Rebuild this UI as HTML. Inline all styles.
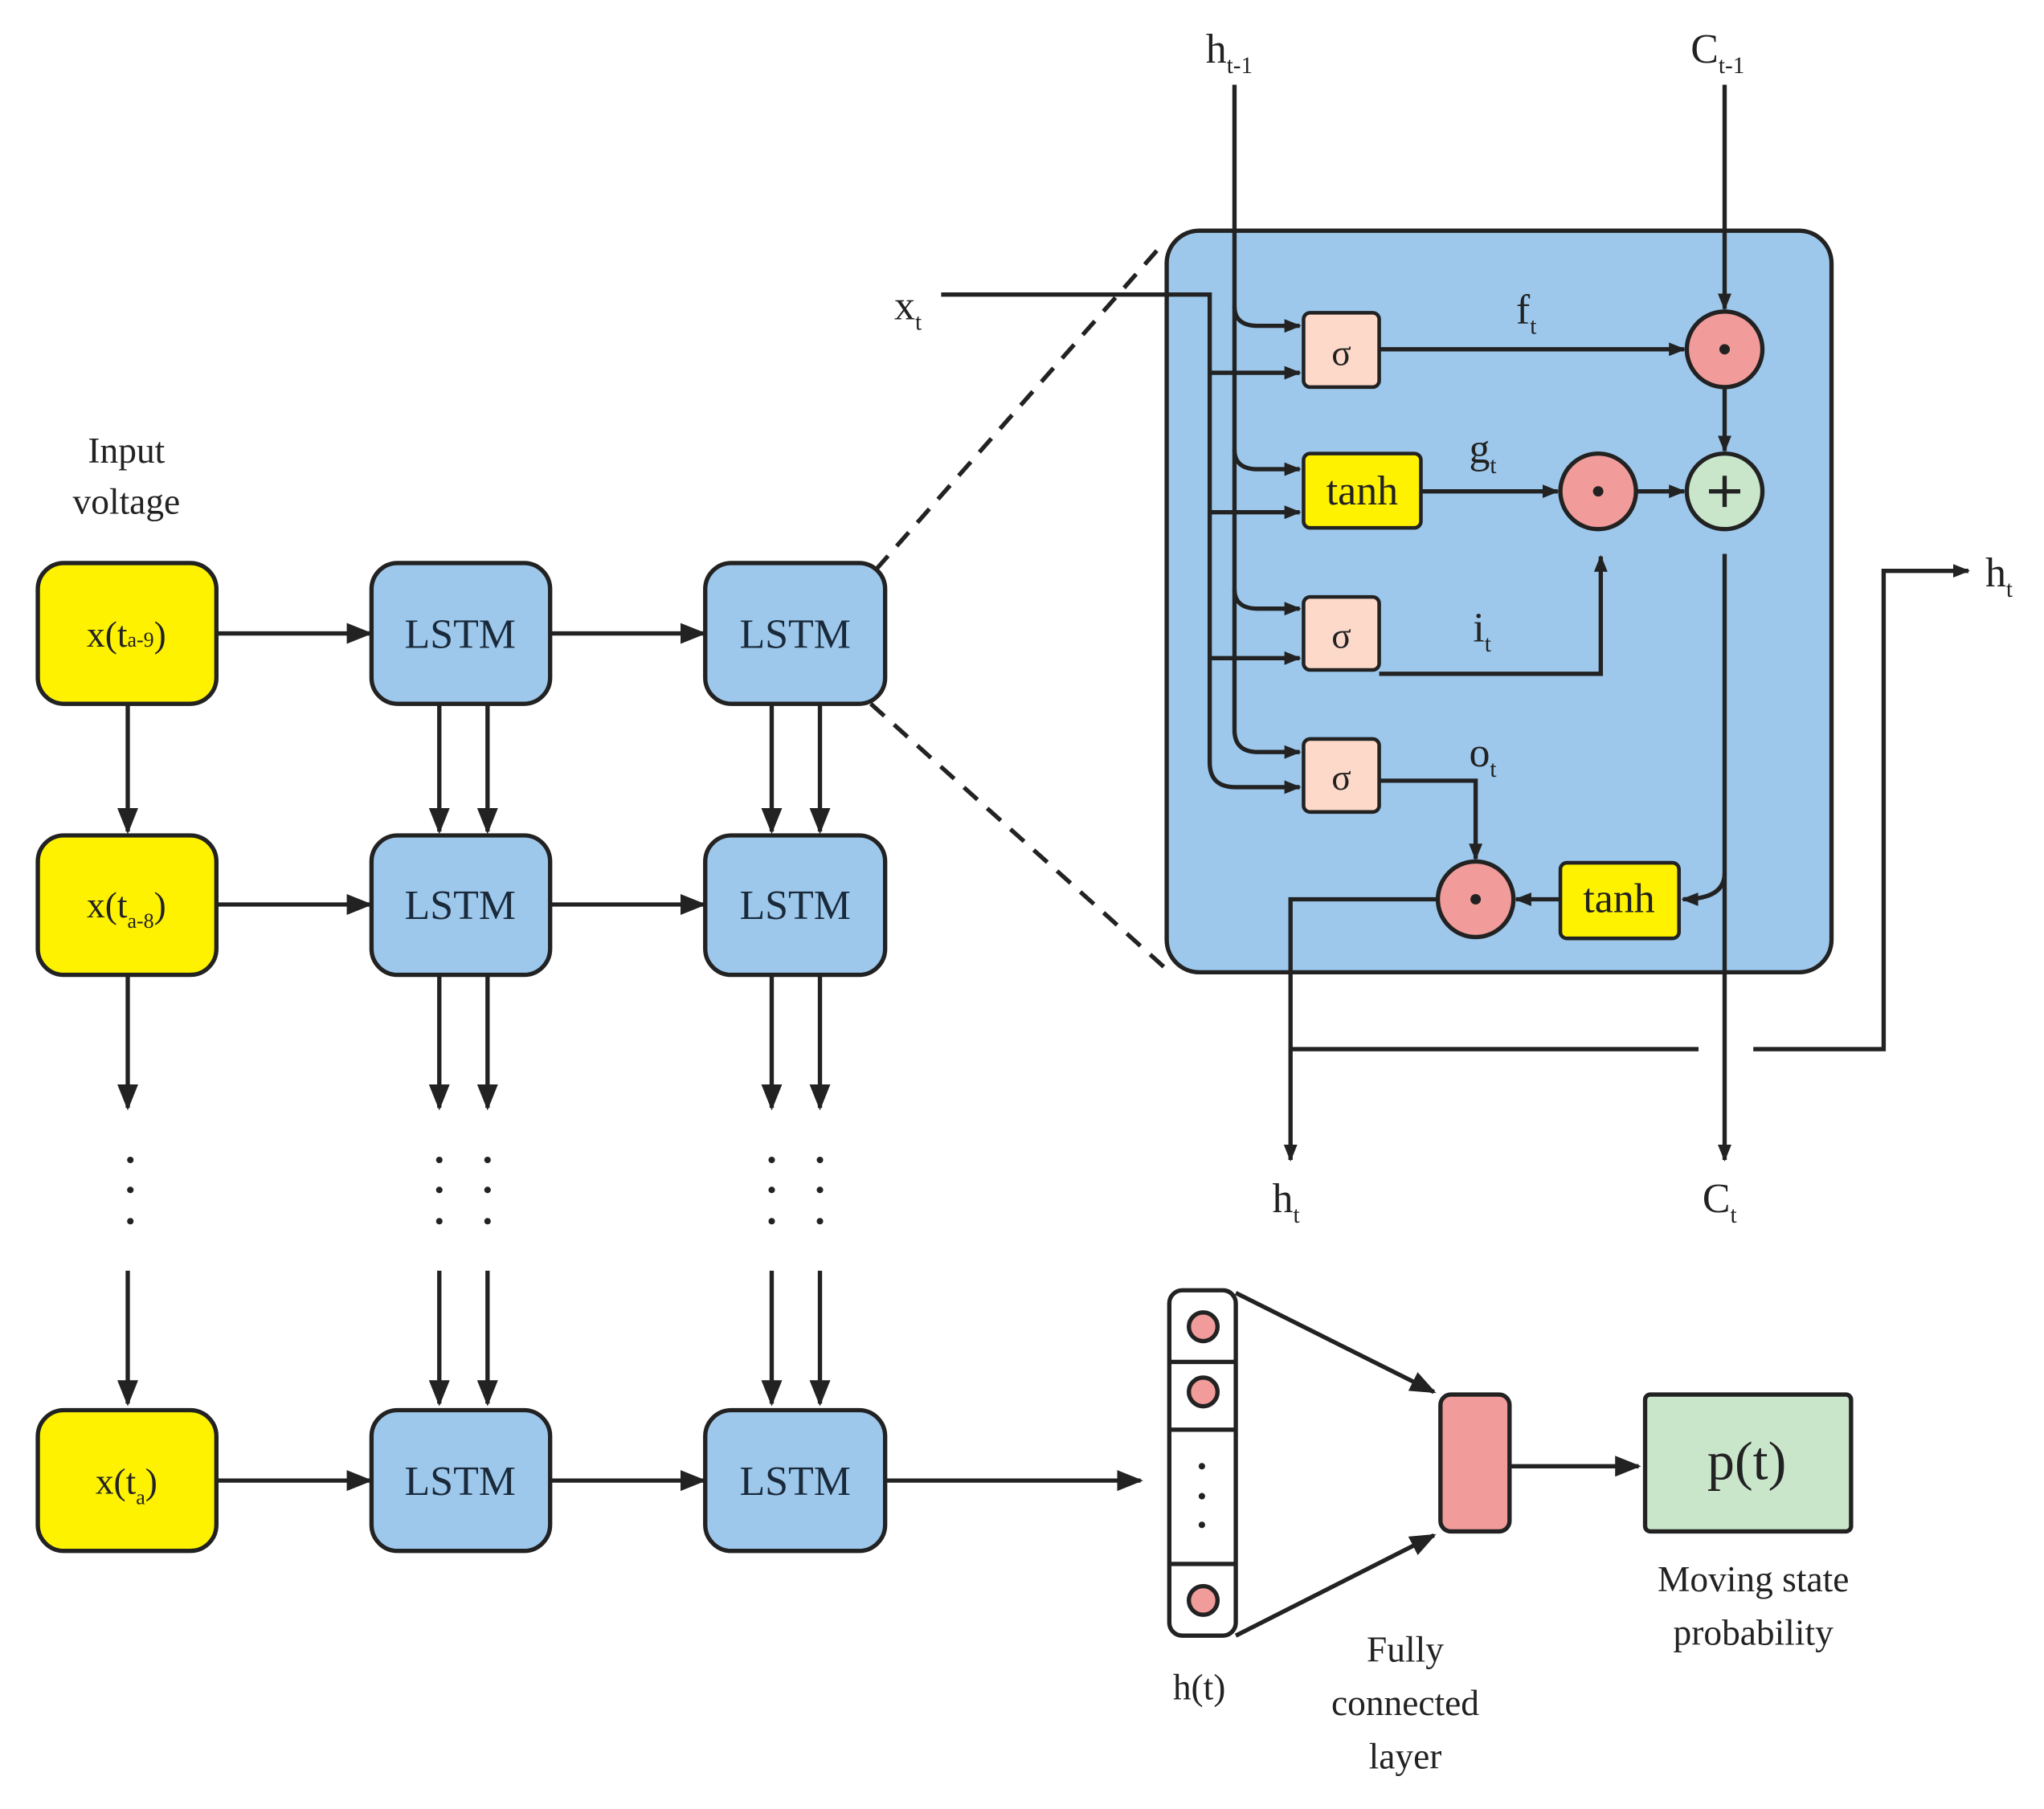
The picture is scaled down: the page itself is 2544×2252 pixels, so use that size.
<!DOCTYPE html>
<html><head><meta charset="utf-8"><style>html,body{margin:0;padding:0;background:#fff}svg{display:block}text{font-family:"Liberation Serif",serif}</style></head>
<body>
<svg width="2544" height="2252" viewBox="0 0 1568 1388" xmlns="http://www.w3.org/2000/svg" font-family="'Liberation Serif', serif" fill="none">
<defs>
<marker id="a" viewBox="0 0 10 10" refX="9" refY="5" markerWidth="13" markerHeight="13" orient="auto" markerUnits="userSpaceOnUse"><path d="M0,1L10,5L0,9z" fill="#222"/></marker>
<marker id="b" viewBox="0 0 10 10" refX="9" refY="5" markerWidth="20" markerHeight="20" orient="auto" markerUnits="userSpaceOnUse"><path d="M0,1L10,5L0,9z" fill="#222"/></marker>
</defs>
<g stroke="#222" stroke-width="3.3">
<g fill="#fef200">
<rect x="29" y="432" width="137" height="108" rx="20"/>
<rect x="29" y="641" width="137" height="107" rx="20"/>
<rect x="29" y="1082" width="137" height="108" rx="20"/>
</g>
<g fill="#9dc8ec">
<rect x="285" y="432" width="137" height="108" rx="20"/>
<rect x="285" y="641" width="137" height="107" rx="20"/>
<rect x="285" y="1082" width="137" height="108" rx="20"/>
<rect x="541" y="432" width="138" height="108" rx="20"/>
<rect x="541" y="641" width="138" height="107" rx="20"/>
<rect x="541" y="1082" width="138" height="108" rx="20"/>
</g>
<g marker-end="url(#b)">
<line x1="166" y1="486" x2="284" y2="486"/><line x1="422" y1="486" x2="540" y2="486"/>
<line x1="166" y1="694" x2="284" y2="694"/><line x1="422" y1="694" x2="540" y2="694"/>
<line x1="166" y1="1136" x2="284" y2="1136"/><line x1="422" y1="1136" x2="540" y2="1136"/>
<line x1="679" y1="1136" x2="875" y2="1136"/>
</g>
<g marker-end="url(#b)">
<line x1="98" y1="540" x2="98" y2="638"/><line x1="337" y1="540" x2="337" y2="638"/><line x1="374" y1="540" x2="374" y2="638"/><line x1="592" y1="540" x2="592" y2="638"/><line x1="629" y1="540" x2="629" y2="638"/>
<line x1="98" y1="748" x2="98" y2="850"/><line x1="337" y1="748" x2="337" y2="850"/><line x1="374" y1="748" x2="374" y2="850"/><line x1="592" y1="748" x2="592" y2="850"/><line x1="629" y1="748" x2="629" y2="850"/>
<line x1="98" y1="975" x2="98" y2="1077"/><line x1="337" y1="975" x2="337" y2="1077"/><line x1="374" y1="975" x2="374" y2="1077"/><line x1="592" y1="975" x2="592" y2="1077"/><line x1="629" y1="975" x2="629" y2="1077"/>
</g>
<line x1="672" y1="437" x2="893" y2="186" stroke-dasharray="14,10"/>
<line x1="668" y1="540" x2="893" y2="742" stroke-dasharray="14,10"/>
<rect x="895" y="177" width="510" height="569" rx="25" fill="#9dc8ec"/>
</g>
<g fill="#222">
<circle cx="100" cy="890" r="2.5"/><circle cx="100" cy="913" r="2.5"/><circle cx="100" cy="937" r="2.5"/>
<circle cx="337" cy="890" r="2.5"/><circle cx="337" cy="913" r="2.5"/><circle cx="337" cy="937" r="2.5"/>
<circle cx="374" cy="890" r="2.5"/><circle cx="374" cy="913" r="2.5"/><circle cx="374" cy="937" r="2.5"/>
<circle cx="592" cy="890" r="2.5"/><circle cx="592" cy="913" r="2.5"/><circle cx="592" cy="937" r="2.5"/>
<circle cx="629" cy="890" r="2.5"/><circle cx="629" cy="913" r="2.5"/><circle cx="629" cy="937" r="2.5"/>
</g>
<g stroke="#222" stroke-width="3.3">
<path d="M947,65 V560 Q947,577 965,577 H997" marker-end="url(#a)"/>
<path d="M722,226 H928 V585 Q928,604 948,604 H997" marker-end="url(#a)"/>
<g marker-end="url(#a)">
<path d="M947,235 Q947,250 965,250 H997"/><path d="M928,286 H997"/>
<path d="M947,345 Q947,360 965,360 H997"/><path d="M928,393 H997"/>
<path d="M947,452 Q947,467 965,467 H997"/><path d="M928,505 H997"/>
<path d="M1323,65 V237"/>
<path d="M1058,268 H1292"/>
<path d="M1323,298 V346"/>
<path d="M1090,377 H1195"/>
<path d="M1255,377 H1292"/>
<path d="M1058,517 H1228 V427"/>
<path d="M1058,599 H1132 V659"/>
<path d="M1197,690 H1163"/>
<path d="M1323,425 V670 Q1323,690 1291,690"/>
<path d="M1323,670 V890"/>
<path d="M1103,690 H990 V890"/>
<path d="M1345,805 H1445 V438 H1510"/>
</g>
<path d="M990,805 H1303"/>
<g fill="#fcd9c9" stroke-width="2.8">
<rect x="1000" y="240" width="58" height="57" rx="5"/>
<rect x="1000" y="458" width="58" height="56" rx="5"/>
<rect x="1000" y="567" width="58" height="56" rx="5"/>
</g>
<g fill="#fef200" stroke-width="2.8">
<rect x="1000" y="348" width="90" height="57" rx="5"/>
<rect x="1197" y="662" width="91" height="58" rx="5"/>
</g>
<g fill="#f29b9b">
<circle cx="1323" cy="268" r="29"/><circle cx="1226" cy="377" r="29"/><circle cx="1132" cy="690" r="29"/>
</g>
<circle cx="1323" cy="377" r="29" fill="#c9e6cb"/>
<path d="M1311,377 H1335 M1323,365 V389"/>
</g>
<g fill="#222"><circle cx="1323" cy="268" r="4"/><circle cx="1226" cy="377" r="4"/><circle cx="1132" cy="690" r="4"/></g>
<g stroke="#222" stroke-width="3.3">
<rect x="897" y="990" width="51" height="265" rx="10" fill="#fff"/>
<path d="M897,1045 H948 M897,1097 H948 M897,1200 H948"/>
<g fill="#f29b9b"><circle cx="923" cy="1018" r="11"/><circle cx="923" cy="1068" r="11"/><circle cx="923" cy="1228" r="11"/></g>
<line x1="948" y1="992" x2="1100" y2="1068" marker-end="url(#b)"/>
<line x1="948" y1="1255" x2="1100" y2="1178" marker-end="url(#b)"/>
<rect x="1105" y="1070" width="53" height="105" rx="8" fill="#f29b9b"/>
<line x1="1158" y1="1125" x2="1257" y2="1125" marker-end="url(#b)"/>
<rect x="1262" y="1070" width="158" height="105" rx="4" fill="#c9e6cb"/>
</g>
<g fill="#222"><circle cx="922" cy="1125" r="2.5"/><circle cx="922" cy="1148" r="2.5"/><circle cx="922" cy="1170" r="2.5"/></g>
<g fill="#222" text-anchor="middle" font-size="28">
<text x="97" y="355">Input</text><text x="97" y="394">voltage</text>
<g font-size="32" fill="#1a2a3a">
<text x="353" y="497">LSTM</text><text x="610" y="497">LSTM</text>
<text x="353" y="705">LSTM</text><text x="610" y="705">LSTM</text>
<text x="353" y="1147">LSTM</text><text x="610" y="1147">LSTM</text>
</g>
<text x="97" y="496" font-size="28">x(t<tspan font-size="16">a-9</tspan>)</text>
<text x="97" y="704" font-size="28">x(t<tspan font-size="16" dy="8">a-8</tspan><tspan dy="-8">)</tspan></text>
<text x="97" y="1146" font-size="28">x(t<tspan font-size="16" dy="8">a</tspan><tspan dy="-8">)</tspan></text>
<text x="1029" y="280" font-size="28">σ</text><text x="1029" y="497" font-size="28">σ</text><text x="1029" y="606" font-size="28">σ</text>
<text x="1045" y="387" font-size="32">tanh</text><text x="1242" y="700" font-size="32">tanh</text>
<g text-anchor="start" font-size="32">
<text x="925" y="48">h<tspan font-size="18" dy="8">t-1</tspan></text>
<text x="1297" y="48">C<tspan font-size="18" dy="8">t-1</tspan></text>
<text x="686" y="245">x<tspan font-size="18" dy="8">t</tspan></text>
<text x="1163" y="248">f<tspan font-size="18" dy="8">t</tspan></text>
<text x="1127" y="355">g<tspan font-size="18" dy="8">t</tspan></text>
<text x="1130" y="492">i<tspan font-size="18" dy="8">t</tspan></text>
<text x="1127" y="588">o<tspan font-size="18" dy="8">t</tspan></text>
<text x="1523" y="450">h<tspan font-size="18" dy="8">t</tspan></text>
<text x="976" y="930">h<tspan font-size="18" dy="8">t</tspan></text>
<text x="1306" y="930">C<tspan font-size="18" dy="8">t</tspan></text>
</g>
<text x="1340" y="1135" font-size="42">p(t)</text>
<text x="920" y="1304" font-size="28">h(t)</text>
<text x="1078" y="1275" font-size="28">Fully</text><text x="1078" y="1316" font-size="28">connected</text><text x="1078" y="1357" font-size="28">layer</text>
<text x="1345" y="1221" font-size="28">Moving state</text><text x="1345" y="1262" font-size="28">probability</text>
</g>
</svg>
</body></html>
